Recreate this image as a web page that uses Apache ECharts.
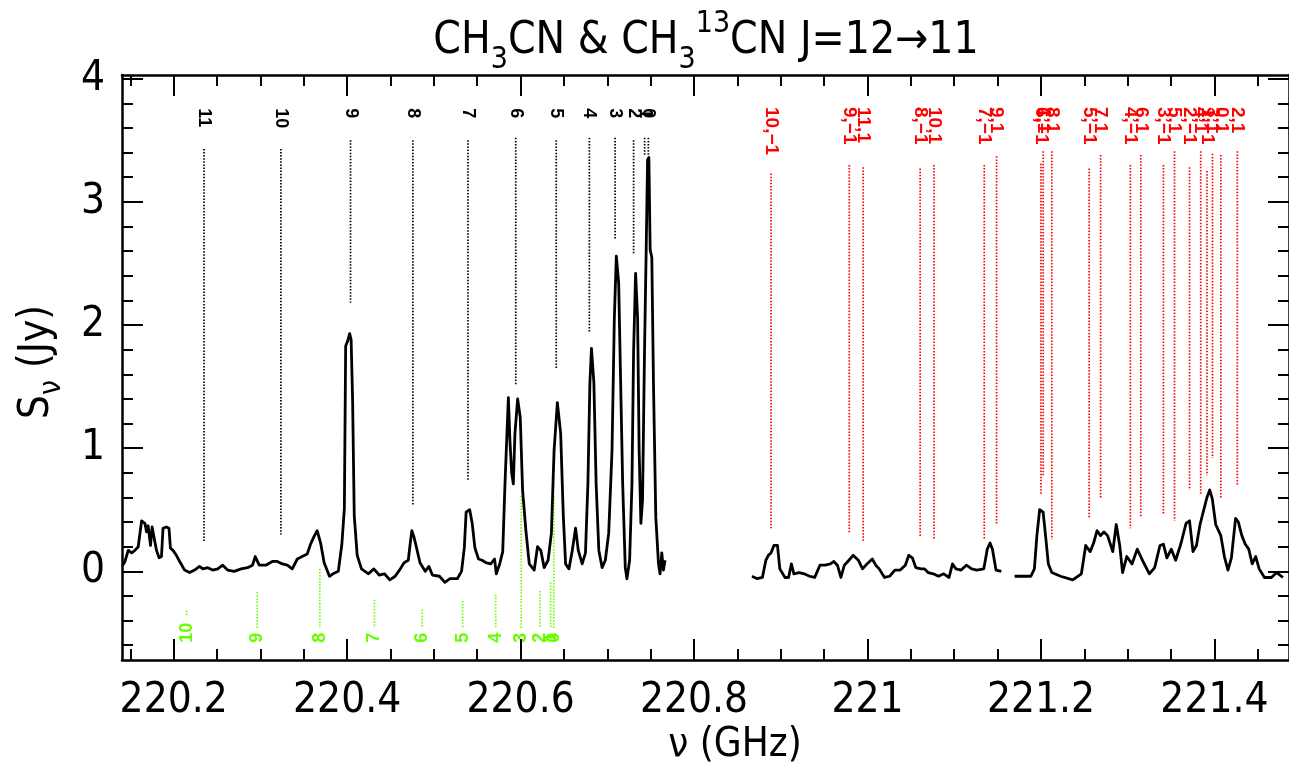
<!DOCTYPE html>
<html>
<head>
<meta charset="utf-8">
<script src="https://cdn.jsdelivr.net/npm/echarts@6.0.0/dist/echarts.min.js"></script>
<style>
  html, body { margin: 0; padding: 0; background: #ffffff; }
  #chart { width: 1289px; height: 767px; }
</style>
</head>
<body>
<div id="chart"></div>
<script>
// ---------------- Spectrum (frequency in GHz, flux density in Jy) ----------------
const specAFreq = [220.1412,220.1438,220.1476,220.1515,220.1553,220.1591,220.1630,220.1668,220.1687,220.1705,
  220.1733,220.1751,220.1774,220.1802,220.1832,220.1859,220.1877,220.1916,220.1946,220.1962,
  220.1992,220.2031,220.2069,220.2126,220.2183,220.2241,220.2298,220.2336,220.2393,220.2450,
  220.2508,220.2565,220.2622,220.2699,220.2776,220.2852,220.2909,220.2940,220.2986,220.3062,
  220.3138,220.3195,220.3253,220.3310,220.3367,220.3425,220.3482,220.3539,220.3578,220.3616,
  220.3654,220.3694,220.3735,220.3796,220.3837,220.3898,220.3939,220.3968,220.3983,220.4006,
  220.4029,220.4046,220.4063,220.4082,220.4116,220.4165,220.4246,220.4308,220.4369,220.4430,
  220.4492,220.4554,220.4613,220.4656,220.4705,220.4728,220.4746,220.4770,220.4797,220.4840,
  220.4900,220.4942,220.4983,220.5065,220.5127,220.5186,220.5270,220.5319,220.5351,220.5372,
  220.5413,220.5442,220.5473,220.5515,220.5556,220.5599,220.5656,220.5700,220.5720,220.5759,
  220.5794,220.5820,220.5859,220.5877,220.5897,220.5916,220.5935,220.5966,220.5996,220.6023,
  220.6061,220.6100,220.6157,220.6195,220.6233,220.6272,220.6317,220.6355,220.6386,220.6424,
  220.6462,220.6493,220.6519,220.6558,220.6596,220.6634,220.6665,220.6710,220.6748,220.6776,
  220.6799,220.6817,220.6845,220.6871,220.6902,220.6940,220.6977,220.7016,220.7054,220.7081,
  220.7104,220.7131,220.7150,220.7177,220.7207,220.7226,220.7257,220.7284,220.7303,220.7326,
  220.7349,220.7367,220.7387,220.7406,220.7429,220.7448,220.7464,220.7479,220.7494,220.7513,
  220.7532,220.7559,220.7590,220.7608,220.7628,220.7647,220.7665];
const specAFlux = [0.05,0.08,0.17,0.15,0.17,0.20,0.41,0.39,0.32,0.37,
  0.21,0.36,0.35,0.17,0.11,0.12,0.35,0.36,0.35,0.19,
  0.17,0.13,0.08,0.01,-0.01,0.01,0.04,0.02,0.03,0.01,
  0.02,0.05,0.01,0.00,0.02,0.03,0.05,0.12,0.05,0.05,
  0.08,0.08,0.06,0.05,0.02,0.10,0.12,0.14,0.22,0.28,
  0.33,0.23,0.07,-0.04,-0.02,0.00,0.22,0.51,1.83,1.87,
  1.93,1.88,1.39,0.45,0.13,0.02,-0.02,0.02,-0.03,-0.02,
  -0.07,-0.04,0.02,0.07,0.09,0.23,0.33,0.28,0.20,0.07,
  0.00,0.04,-0.03,-0.04,-0.09,-0.06,-0.06,0.00,0.19,0.48,
  0.50,0.39,0.19,0.10,0.09,0.07,0.06,0.10,-0.02,0.06,
  0.16,0.71,1.41,1.06,0.80,0.71,1.12,1.40,1.25,0.66,
  0.33,0.06,0.01,0.20,0.17,0.03,0.09,0.31,0.98,1.37,
  1.12,0.44,0.06,0.02,0.17,0.35,0.17,0.06,0.15,0.71,
  1.53,1.81,1.53,0.71,0.17,0.03,0.09,0.31,0.98,2.06,
  2.56,2.34,1.66,0.71,0.03,-0.06,0.09,0.71,1.79,2.42,
  2.06,0.98,0.39,0.58,1.79,2.61,3.34,3.36,2.61,2.55,
  1.53,0.44,0.06,-0.02,0.15,0.01,0.09];

const specBFreq = [220.8668,220.8728,220.8788,220.8828,220.8857,220.8888,220.8921,220.8962,220.8989,220.9049,
  220.9090,220.9122,220.9151,220.9210,220.9271,220.9332,220.9391,220.9452,220.9512,220.9572,
  220.9612,220.9653,220.9693,220.9733,220.9773,220.9834,220.9894,220.9943,220.9994,221.0055,
  221.0095,221.0135,221.0196,221.0255,221.0316,221.0377,221.0436,221.0476,221.0517,221.0557,
  221.0617,221.0658,221.0698,221.0758,221.0818,221.0879,221.0940,221.0980,221.1020,221.1079,
  221.1140,221.1201,221.1260,221.1341,221.1381,221.1413,221.1441,221.1462,221.1482,221.1543];
const specBFlux = [-0.04,-0.06,-0.05,0.09,0.13,0.15,0.21,0.21,0.02,-0.05,
  -0.05,0.06,-0.02,-0.01,-0.02,-0.04,-0.05,0.05,0.05,0.06,
  0.08,0.05,-0.05,0.05,0.08,0.13,0.09,0.02,0.06,0.10,
  0.05,0.02,-0.05,-0.04,0.01,0.01,0.05,0.13,0.11,0.03,
  0.02,0.02,-0.01,-0.02,-0.04,-0.02,-0.05,0.06,0.02,0.01,
  0.05,0.02,0.01,0.02,0.18,0.23,0.18,0.09,0.01,0.00];

const specCFreq = [221.1696,221.1884,221.1924,221.1953,221.1985,221.2025,221.2053,221.2085,221.2125,221.2226,
  221.2366,221.2466,221.2516,221.2567,221.2607,221.2647,221.2687,221.2727,221.2768,221.2828,
  221.2868,221.2908,221.2941,221.2989,221.3050,221.3110,221.3170,221.3250,221.3311,221.3372,
  221.3412,221.3452,221.3503,221.3553,221.3612,221.3673,221.3713,221.3753,221.3793,221.3834,
  221.3874,221.3914,221.3946,221.3975,221.4015,221.4074,221.4115,221.4156,221.4196,221.4244,
  221.4276,221.4316,221.4356,221.4396,221.4436,221.4476,221.4516,221.4577,221.4657,221.4718,221.4790];
const specCFlux = [-0.04,-0.04,0.02,0.29,0.50,0.48,0.29,0.06,-0.01,-0.04,
  -0.07,-0.02,0.21,0.16,0.23,0.33,0.29,0.32,0.29,0.16,
  0.38,0.21,-0.01,0.12,0.06,0.18,0.09,-0.02,0.03,0.21,
  0.22,0.11,0.18,0.09,0.22,0.39,0.41,0.16,0.21,0.38,
  0.49,0.60,0.66,0.59,0.38,0.29,0.12,0.01,0.11,0.43,
  0.40,0.29,0.22,0.18,0.06,0.12,0.02,-0.05,-0.05,-0.01,-0.05];

// ---------------- CH3CN J=12-11 K components (black) ----------------
const ch3cnLabels = ['11','10','9','8','7','6','5','4','3','2','1','0'];
const ch3cnFreq   = [220.2350,220.3236,220.4039,220.4758,220.5393,220.5944,220.6411,220.6793,220.7090,220.7303,220.7430,220.7473];
const ch3cnTop    = [3.43,3.43,3.50,3.50,3.50,3.52,3.50,3.52,3.52,3.50,3.52,3.52];
const ch3cnBottom = [0.24,0.30,2.18,0.54,0.74,1.51,1.65,1.94,2.69,2.58,3.38,3.38];

// ---------------- CH3CN v8=1 components (red), K,l ----------------
const vibLabels = ['10,\u22121','9,\u22121','11,1','8,\u22121','10,1','7,\u22121','9,1','6,\u22121','1,1','8,1',
  '5,\u22121','7,1','4,\u22121','6,1','3,\u22121','5,1','2,\u22121','4,1','1,\u22121','3,1','0,1','2,1'];
const vibFreq   = [220.8888,220.9790,220.9950,221.0607,221.0767,221.1346,221.1488,221.2000,221.2026,221.2125,
  221.2556,221.2688,221.3031,221.3151,221.3412,221.3540,221.3713,221.3842,221.3914,221.3978,221.4074,221.4264];
const vibTop    = [3.23,3.30,3.28,3.27,3.30,3.30,3.37,3.31,3.41,3.41,
  3.27,3.38,3.30,3.38,3.30,3.41,3.28,3.41,3.25,3.39,3.38,3.41];
const vibBottom = [0.35,0.31,0.24,0.28,0.26,0.26,0.38,0.62,0.77,0.26,
  0.43,0.60,0.35,0.44,0.46,0.41,0.66,0.62,0.78,0.92,0.60,0.69];

// ---------------- CH3(13)CN J=12-11 K components (green) ----------------
const isoLabels = ['10','9','8','7','6','5','4','3','2','1','0'];
const isoFreq   = [220.2149,220.2963,220.3685,220.4315,220.4865,220.5331,220.5713,220.6007,220.6223,220.6346,220.6383];
const isoTop    = [-0.32,-0.17,0.02,-0.23,-0.31,-0.24,-0.19,0.61,-0.16,-0.09,0.61];
const isoBottom = [-0.37,-0.46,-0.46,-0.46,-0.46,-0.46,-0.46,-0.46,-0.46,-0.46,-0.46];

// ---------------- Axes ----------------
const xMajorTicks = [220.2, 220.4, 220.6, 220.8, 221.0, 221.2, 221.4];
const yMajorTicks = [0, 1, 2, 3, 4];
const X_MIN = 220.1404, X_MAX = 221.486;
const Y_MIN = -0.72, Y_MAX = 4.03;

function minorValues(lo, hi, step, majors) {
  const out = [];
  for (let i = Math.ceil(lo / step - 1e-6); i * step <= hi + 1e-9; i++) {
    const v = +(i * step).toFixed(4);
    if (!majors.some(m => Math.abs(m - v) < 1e-6)) out.push(v);
  }
  return out;
}
const xMinorTicks = minorValues(X_MIN, X_MAX, 0.05, xMajorTicks);
const yMinorTicks = minorValues(Y_MIN, Y_MAX, 0.2, yMajorTicks);

const FONT = "'Liberation Sans Narrow', 'DejaVu Sans Condensed', 'Liberation Sans', sans-serif";
const LABEL_FONT = "'Liberation Sans', 'DejaVu Sans', sans-serif";

function pairs(fx, fy) { return fx.map((f, i) => [f, fy[i]]); }

function xAxisDef(position, ticks, len, withLine, withLabels) {
  return {
    type: 'value', position: position, min: X_MIN, max: X_MAX, gridIndex: 0,
    axisLine: { show: withLine, onZero: false, lineStyle: { color: '#000', width: 2.5 } },
    axisTick: { show: true, inside: true, length: len, customValues: ticks, lineStyle: { color: '#000', width: 2 } },
    axisLabel: withLabels ? {
      show: true, customValues: ticks, margin: 20, color: '#000', fontSize: 42, fontFamily: FONT,
      formatter: v => String(+v.toFixed(1))
    } : { show: false },
    splitLine: { show: false }
  };
}
function yAxisDef(position, ticks, len, withLine, withLabels) {
  return {
    type: 'value', position: position, min: Y_MIN, max: Y_MAX, gridIndex: 0,
    axisLine: { show: withLine, onZero: false, lineStyle: { color: '#000', width: 2.5 } },
    axisTick: { show: true, inside: true, length: len, customValues: ticks, lineStyle: { color: '#000', width: 2 } },
    axisLabel: withLabels ? {
      show: true, customValues: ticks, margin: 17, color: '#000', fontSize: 42, fontFamily: FONT
    } : { show: false },
    splitLine: { show: false }
  };
}

// Vertical dotted marker with a rotated label at one end
function markerSeries(name, freqs, tops, bottoms, labels, color, labelY, rotation, fontSize) {
  return {
    type: 'custom', name: name, xAxisIndex: 0, yAxisIndex: 0, z: 2,
    data: freqs.map((f, i) => [f, tops[i], bottoms[i], i]),
    encode: { x: 0, y: [1, 2] },
    renderItem: function (params, api) {
      const f = api.value(0), i = api.value(3);
      const p1 = api.coord([f, api.value(1)]);
      const p2 = api.coord([f, api.value(2)]);
      const pl = api.coord([f, labelY]);
      return {
        type: 'group',
        children: [
          { type: 'line', shape: { x1: p1[0], y1: p1[1], x2: p2[0], y2: p2[1] },
            style: { stroke: color, lineWidth: 1.7, lineDash: [1.5, 1.6] } },
          { type: 'text', x: pl[0], y: pl[1], rotation: rotation,
            style: { text: labels[i], fill: color, fontSize: fontSize, fontWeight: 'bold',
                     fontFamily: LABEL_FONT, align: 'left', verticalAlign: 'middle' } }
        ]
      };
    }
  };
}

function spectrumSeries(fx, fy) {
  return {
    type: 'line', xAxisIndex: 0, yAxisIndex: 0, z: 5,
    data: pairs(fx, fy), showSymbol: false, symbol: 'none', smooth: false,
    lineStyle: { color: '#000', width: 2.8, join: 'round' }
  };
}

const chart = echarts.init(document.getElementById('chart'), null, { renderer: 'canvas' });
chart.setOption({
  animation: false,
  backgroundColor: '#ffffff',
  grid: { left: 122, right: -7, top: 75, bottom: 107, containLabel: false },
  xAxis: [
    xAxisDef('bottom', xMajorTicks, 21, true, true),
    xAxisDef('bottom', xMinorTicks, 11, false, false),
    xAxisDef('top', xMajorTicks, 21, true, false),
    xAxisDef('top', xMinorTicks, 11, false, false)
  ],
  yAxis: [
    yAxisDef('left', yMajorTicks, 21, true, true),
    yAxisDef('left', yMinorTicks, 11, false, false),
    yAxisDef('right', yMajorTicks, 21, true, false),
    yAxisDef('right', yMinorTicks, 11, false, false)
  ],
  graphic: [
    { type: 'text', x: 706, y: 42, z: 10,
      style: {
        text: '{m|CH}{s|3}{m|CN & CH}{s|3}{p|13}{m|CN J=12\u219211}',
        align: 'center', verticalAlign: 'middle', fill: '#000',
        rich: {
          m: { fontSize: 44, lineHeight: 66, verticalAlign: 'middle', fontFamily: FONT, fill: '#000' },
          s: { fontSize: 30, lineHeight: 30, verticalAlign: 'bottom', fontFamily: FONT, fill: '#000' },
          p: { fontSize: 30, lineHeight: 30, verticalAlign: 'top', fontFamily: FONT, fill: '#000' }
        }
      } },
    { type: 'text', x: 735, y: 746, z: 10,
      style: { text: '\u03bd (GHz)', align: 'center', verticalAlign: 'middle', fill: '#000',
               font: '40px ' + FONT } },
    { type: 'text', x: 37, y: 362, rotation: Math.PI / 2, z: 10,
      style: {
        text: '{m|S}{s|\u03bd}{m| (Jy)}', align: 'center', verticalAlign: 'middle', fill: '#000',
        rich: {
          m: { fontSize: 42, lineHeight: 60, verticalAlign: 'middle', fontFamily: FONT, fill: '#000' },
          s: { fontSize: 30, lineHeight: 30, verticalAlign: 'bottom', fontFamily: FONT, fill: '#000' }
        }
      } }
  ],
  series: [
    markerSeries('CH3CN', ch3cnFreq, ch3cnTop, ch3cnBottom, ch3cnLabels, '#000000', 3.76, -Math.PI / 2, 18),
    markerSeries('CH3CN v8=1', vibFreq, vibTop, vibBottom, vibLabels, '#ff0000', 3.77, -Math.PI / 2, 19),
    markerSeries('CH3-13CN', isoFreq, isoTop, isoBottom, isoLabels, '#66ff00', -0.58, Math.PI / 2, 18),
    spectrumSeries(specAFreq, specAFlux),
    spectrumSeries(specBFreq, specBFlux),
    spectrumSeries(specCFreq, specCFlux)
  ]
});
</script>
</body>
</html>
